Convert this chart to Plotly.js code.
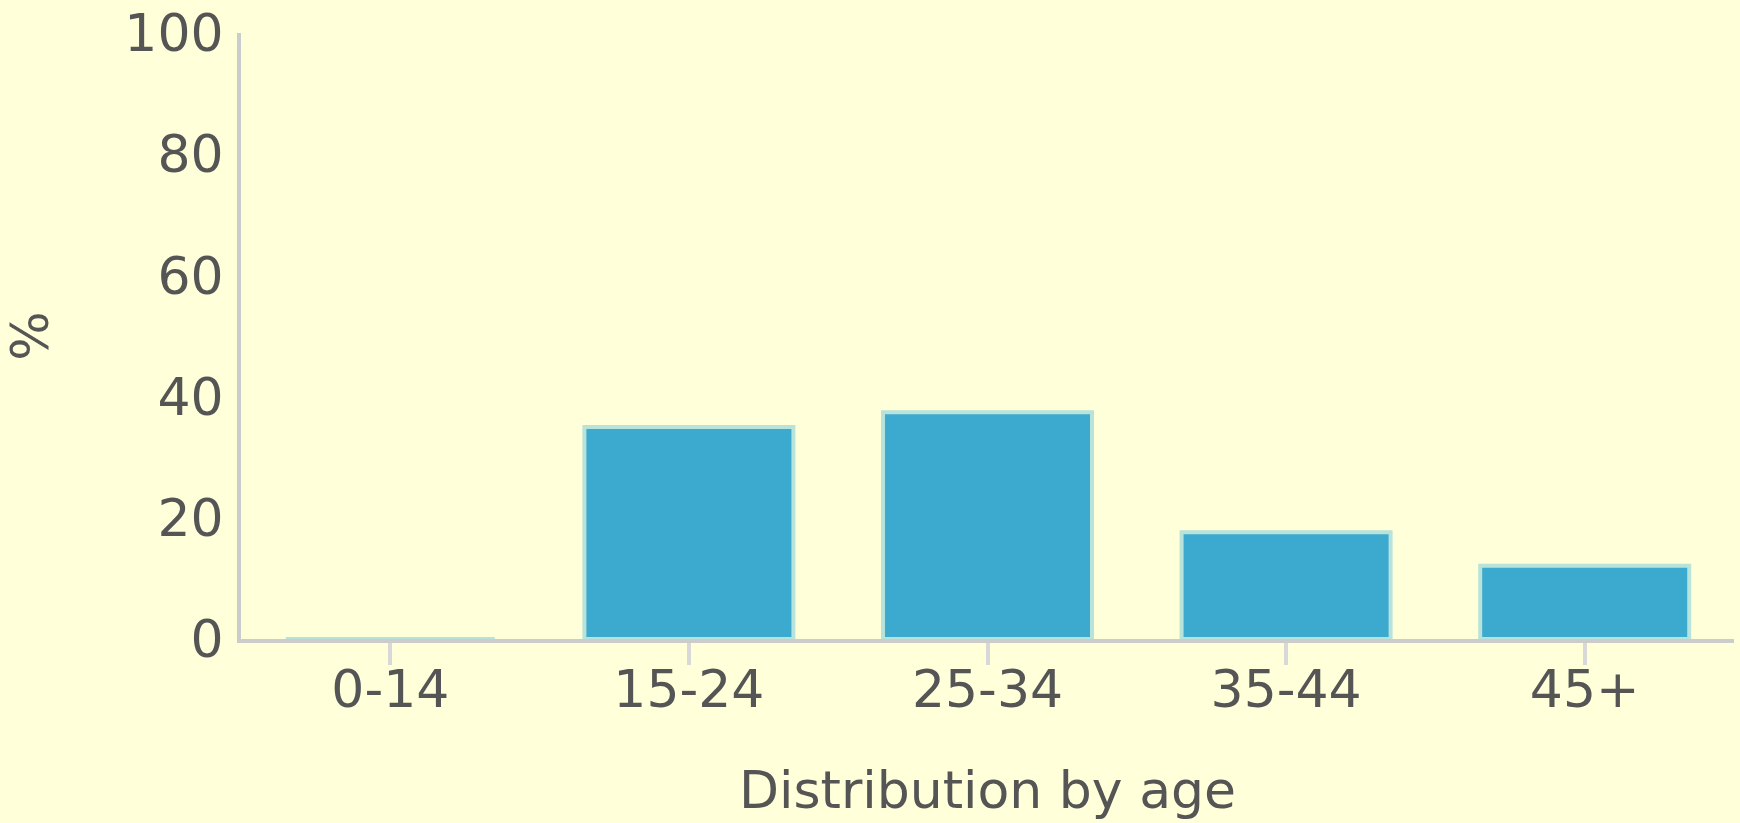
<!DOCTYPE html>
<html>
<head>
<meta charset="utf-8">
<script src="https://cdn.plot.ly/plotly-3.0.1.min.js"></script>
<style>
  html, body { margin: 0; padding: 0; background: #FFFFDA; }
  #chart { width: 1740px; height: 823px; }
</style>
</head>
<body>
<div id="chart"></div>
<script>
const categories = ["0-14", "15-24", "25-34", "35-44", "45+"];
const percentages = [0, 35.0, 37.4, 17.6, 12.1];
const yTickValues = [0, 20, 40, 60, 80, 100];
const xTitle = "Distribution by age";
const yTitle = "%";

const font = "DejaVu Sans, Verdana, sans-serif";

const trace = {
  type: "bar",
  x: categories,
  y: percentages,
  marker: {
    color: "#3CA9CF",
    line: { color: "#B8E3DA", width: 4 }
  },
  hoverinfo: "x+y"
};

const layout = {
  width: 1740,
  height: 823,
  paper_bgcolor: "#FFFFDA",
  plot_bgcolor: "#FFFFDA",
  margin: { l: 241, r: 6, t: 33, b: 184, pad: 0 },
  bargap: 0.3,
  showlegend: false,
  xaxis: {
    type: "category",
    showline: true,
    linecolor: "#CCCCCC",
    linewidth: 4,
    ticks: "outside",
    ticklen: 22,
    tickwidth: 4,
    tickcolor: "#D8D8D8",
    showgrid: false,
    zeroline: false,
    ticklabelstandoff: -20,
    tickfont: { family: font, size: 52, color: "#555555" },
    title: { text: xTitle, font: { family: font, size: 52, color: "#555555" } },
    automargin: false
  },
  yaxis: {
    range: [0, 100],
    tickvals: yTickValues,
    showline: true,
    linecolor: "#CCCCCC",
    linewidth: 4,
    ticks: "",
    showgrid: false,
    zeroline: false,
    ticklabelstandoff: 3,
    tickfont: { family: font, size: 52, color: "#555555" },
    title: { text: yTitle, font: { family: font, size: 52, color: "#555555" }, standoff: 72 },
    automargin: false
  }
};

Plotly.newPlot("chart", [trace], layout, { displayModeBar: false, staticPlot: true });
</script>
</body>
</html>
